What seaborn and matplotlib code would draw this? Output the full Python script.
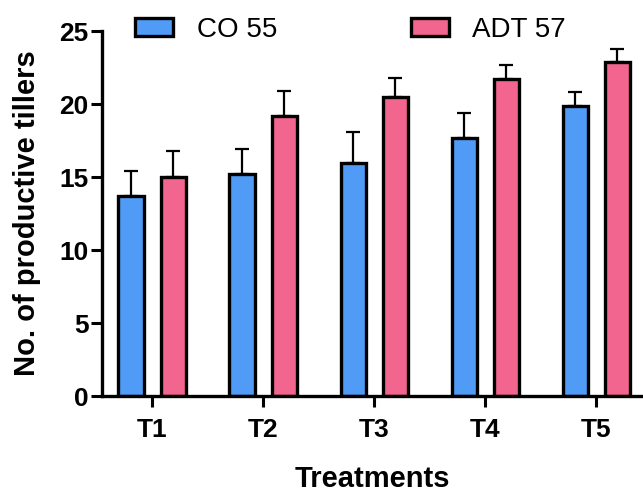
import numpy as np
import pandas as pd
import matplotlib
matplotlib.use("Agg")
import matplotlib.pyplot as plt
import seaborn as sns

# data
treatments = ["T1", "T2", "T3", "T4", "T5"]
varieties = ["CO 55", "ADT 57"]
co55_mean = [13.7, 15.2, 16.0, 17.7, 19.9]
co55_err = [1.7, 1.7, 2.1, 1.7, 0.9]
adt57_mean = [15.0, 19.2, 20.5, 21.7, 22.9]
adt57_err = [1.8, 1.7, 1.3, 1.0, 0.9]

colors = ["#4F9BF5", "#F2658F"]

df = pd.DataFrame({
    "treatment": treatments * 2,
    "variety": [varieties[0]] * 5 + [varieties[1]] * 5,
    "tillers": co55_mean + adt57_mean,
})

sns.set_style("ticks")
plt.rcParams["font.family"] = ["Liberation Sans", "DejaVu Sans"]
plt.rcParams["text.color"] = "black"
plt.rcParams["axes.labelcolor"] = "black"
plt.rcParams["xtick.color"] = "black"
plt.rcParams["ytick.color"] = "black"
plt.rcParams["axes.edgecolor"] = "black"

fig = plt.figure(figsize=(6.43, 4.95), dpi=100)
ax = fig.add_axes([0.159, 0.2, 0.841, 0.737])

sns.barplot(data=df, x="treatment", y="tillers", hue="variety",
            palette=colors, width=0.76, gap=0.4, edgecolor="black",
            linewidth=2.4, errorbar=None, ax=ax, saturation=1)

# one-sided error bars on top of each bar
for cont, errs in zip(ax.containers, [co55_err, adt57_err]):
    for bar, e in zip(cont, errs):
        xc = bar.get_x() + bar.get_width() / 2
        h = bar.get_height()
        ax.errorbar(xc, h, yerr=[[0], [e]], color="black", lw=1.6,
                    capsize=5, capthick=1.6, zorder=1)

ax.set_xlim(-0.45, 4.42)
ax.set_ylim(0, 25)
ax.set_yticks([0, 5, 10, 15, 20, 25])
sns.despine(ax=ax)
for s in ["left", "bottom"]:
    ax.spines[s].set_linewidth(2.4)
ax.tick_params(axis="both", width=2.2, length=8, labelsize=19)
ax.tick_params(axis="y", pad=2)
ax.tick_params(axis="x", pad=8)
for lab in ax.get_xticklabels() + ax.get_yticklabels():
    lab.set_fontweight("bold")

ax.set_xlabel("Treatments", fontsize=21, fontweight="bold")
ax.xaxis.set_label_coords(0.5, -0.19)
ax.set_ylabel("No. of productive tillers", fontsize=21, fontweight="bold")
ax.yaxis.set_label_coords(-0.113, 0.5)

ax.legend(loc="center left", bbox_to_anchor=(0.061, 1.004), ncol=2, frameon=False,
          fontsize=20, handlelength=1.37, handleheight=0.62, handletextpad=0.85,
          columnspacing=4.8, borderaxespad=0, borderpad=0)

fig.savefig("out.png", dpi=100)
